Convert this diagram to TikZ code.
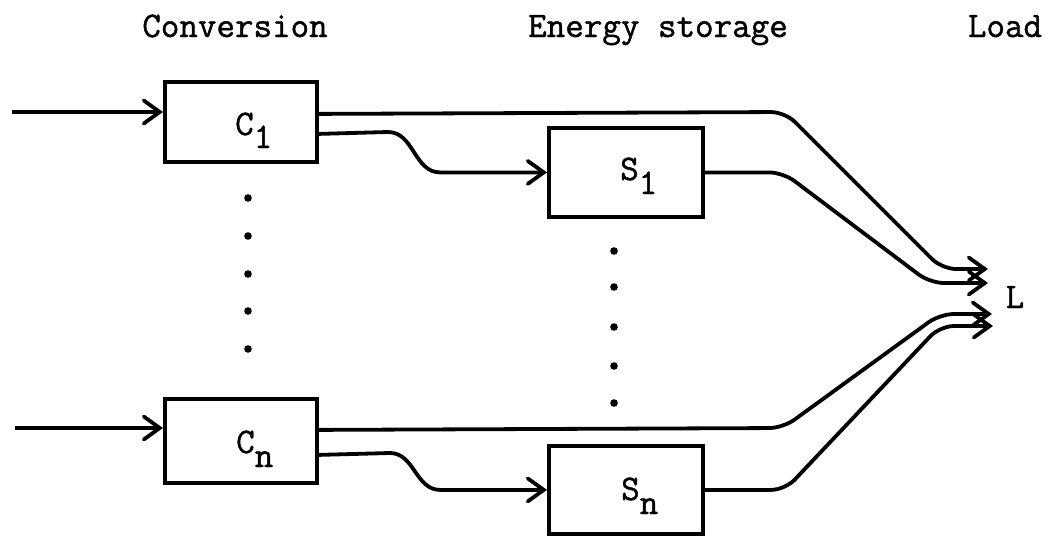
\documentclass[tikz,border=0pt]{standalone}
\usepackage{fontspec}
\newfontfamily\typew[FakeBold=1.2]{Latin Modern Mono}
\usetikzlibrary{arrows.meta,calc}
\begin{document}
\begin{tikzpicture}[x=1pt,y=-1pt,
  wire/.style={line width=3.8pt, line join=round},
  tip/.style={-{Straight Barb[length=16pt,width=23pt,line cap=round]}},
  blockbox/.style={draw, line width=3.8pt, anchor=north west, inner sep=0pt},
  hdr/.style={font=\fontsize{36}{40}\typew, inner sep=0pt, anchor=base},
  lbl/.style={font=\fontsize{36}{40}\typew, inner sep=0pt, anchor=base west}]
\useasboundingbox (0,0) rectangle (1051,536);
% headers
\node[hdr] (hconv) at (235,37) {Conversion};
\node[hdr] (hes) at (658,37) {Energy storage};
\node[hdr] (hload) at (1005,37) {Load};
% boxes
\node[blockbox, minimum width=152pt, minimum height=80pt] (c1) at (163,80) {};
\node[blockbox, minimum width=152pt, minimum height=84pt] (cn) at (163,397) {};
\node[blockbox, minimum width=154pt, minimum height=89pt] (s1) at (547,126) {};
\node[blockbox, minimum width=154pt, minimum height=88pt] (sn) at (547,444) {};
% labels
\node[lbl] (c1l) at (235,135) {C\raisebox{-13pt}{1}};
\node[lbl] (cnl) at (236,453) {C\raisebox{-14pt}{n}};
\node[lbl] (s1l) at (620,180) {S\raisebox{-14pt}{1}};
\node[lbl] (snl) at (621,500) {S\raisebox{-14pt}{n}};
\node[hdr] (ll) at (1015,308) {L};
% end points
\coordinate (in1) at (12,112);
\coordinate (inn) at (15,428);
\coordinate (t1) at (988,269);
\coordinate (t2) at (988,283);
\coordinate (t3) at (992,314);
\coordinate (t4) at (993,326);
% inputs
\draw[wire,tip] (in1) -- (in1 -| c1.west);
\draw[wire,tip] (inn) -- (inn -| cn.west);
% C1 outputs
\draw[wire,tip,rounded corners=14pt] ([yshift=8pt]c1.east) -- (785,112) -- (942,269) -- (t1);
\draw[wire,tip] ([yshift=-12pt]c1.east) -- (388,132) to[out=0,in=180] (440,0 |- s1.west) -- (s1.west);
% S1 output
\draw[wire,tip,rounded corners=14pt] (s1.east) -- (783,0 |- s1.east) -- (930,283) -- (t2);
% Cn outputs
\draw[wire,tip,rounded corners=14pt] ([yshift=11pt]cn.east) -- (783,428) -- (940,314) -- (t3);
\draw[wire,tip] ([yshift=-14pt]cn.east) -- (390,453) to[out=0,in=180] (440,0 |- sn.west) -- (sn.west);
% Sn output
\draw[wire,tip,rounded corners=14pt] (sn.east) -- (785,0 |- sn.east) -- (940,326) -- (t4);
% dots
\foreach \y in {198,236,274,311,349} \fill (248,\y) circle (3.8pt);
\foreach \y in {251,287,327,366,403} \fill (614,\y) circle (3.8pt);
\end{tikzpicture}
\end{document}
